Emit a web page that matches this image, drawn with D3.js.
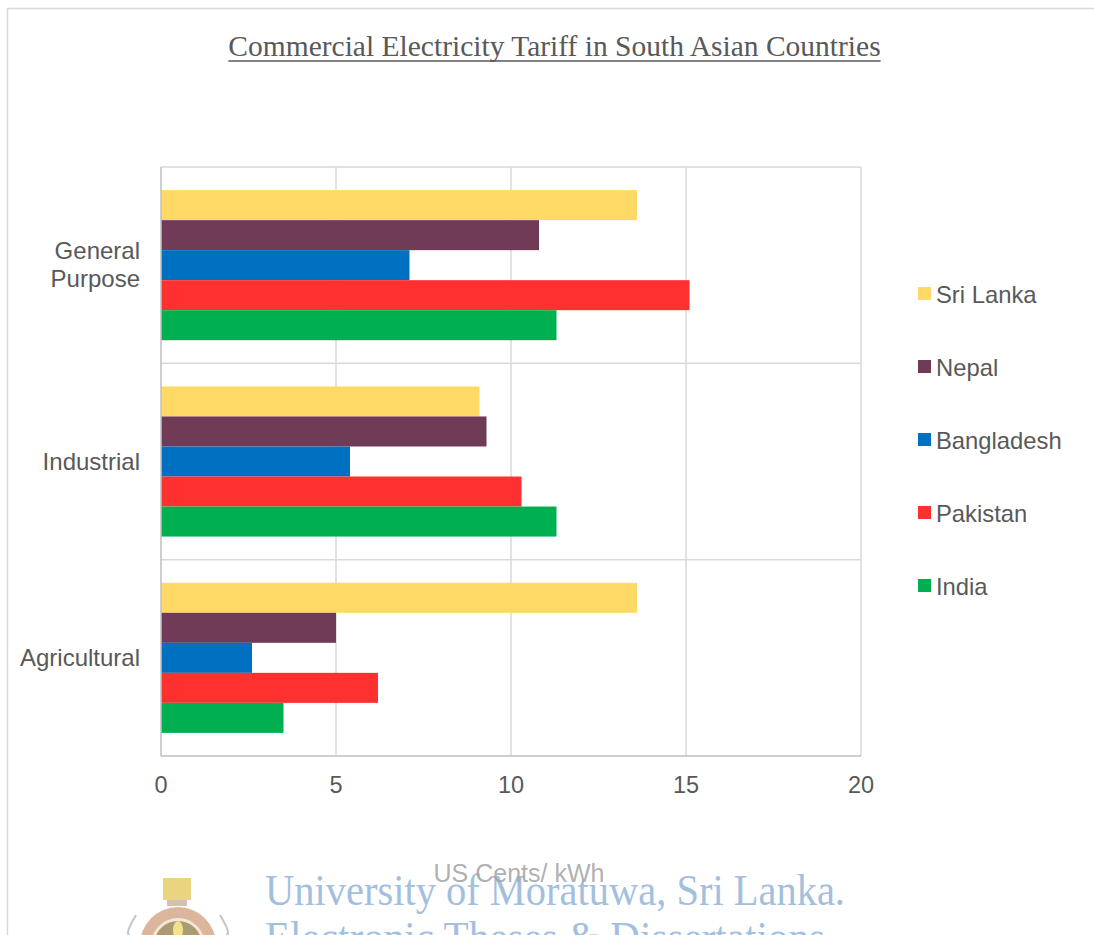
<!DOCTYPE html>
<html>
<head>
<meta charset="utf-8">
<script src="https://cdn.jsdelivr.net/npm/d3@7"></script>
<style>
  html, body { margin: 0; padding: 0; background: #fff; }
  svg { display: block; }
</style>
</head>
<body>
<svg id="chart" width="1094" height="935"></svg>
<script>
// ---- data ----
const categories = ["General Purpose", "Industrial", "Agricultural"];
const series = ["Sri Lanka", "Nepal", "Bangladesh", "Pakistan", "India"];
const sriLanka   = [13.6, 9.1, 13.6];
const nepal      = [10.8, 9.3, 5.0];
const bangladesh = [7.1, 5.4, 2.6];
const pakistan   = [15.1, 10.3, 6.2];
const india      = [11.3, 11.3, 3.5];
const xTicks = [0, 5, 10, 15, 20];
const chartTitle = "Commercial Electricity Tariff in South Asian Countries";
const xTitle = "US Cents/ kWh";
const colors = ["#FFD966", "#703B57", "#0070C0", "#FF3030", "#00B050"];

(function () {
const values = [sriLanka, nepal, bangladesh, pakistan, india];
const rows = [];
categories.forEach((c, ci) => series.forEach((s, si) => rows.push({cat: c, ser: s, v: values[si][ci], si})));

const svg = d3.select("#chart");
const textColor = "#595959";
const gridColor = "#D9D9D9";
const font = "'Liberation Sans', Arial, sans-serif";

// outer border
svg.append("path").attr("d", "M7.5,935 V8.5 H1094").attr("fill", "none").attr("stroke", gridColor).attr("stroke-width", 1.5);

const pLeft = 161, pRight = 861, pTop = 167, pBottom = 756;
const x = d3.scaleLinear().domain([0, 20]).range([pLeft, pRight]);
const y = d3.scaleBand().domain(categories).range([pTop, pBottom]);
const ys = d3.scaleBand().domain(series).range([0, y.bandwidth()]).paddingInner(0).paddingOuter(0.77);

// grid
const g = svg.append("g");
g.selectAll("line.vg").data(xTicks.slice(1)).join("line")
  .attr("x1", d => x(d)).attr("x2", d => x(d)).attr("y1", pTop).attr("y2", pBottom)
  .attr("stroke", gridColor).attr("stroke-width", 1.5);
g.selectAll("line.hg").data(categories).join("line")
  .attr("x1", pLeft).attr("x2", pRight).attr("y1", d => y(d)).attr("y2", d => y(d))
  .attr("stroke", gridColor).attr("stroke-width", 1.5);

// bars
svg.append("g").selectAll("rect").data(rows).join("rect")
  .attr("x", x(0))
  .attr("y", d => y(d.cat) + ys(d.ser))
  .attr("width", d => x(d.v) - x(0))
  .attr("height", ys.bandwidth())
  .attr("fill", d => colors[d.si]);

// axes lines
svg.append("line").attr("x1", pLeft).attr("x2", pLeft).attr("y1", pTop).attr("y2", pBottom)
  .attr("stroke", "#BFBFBF").attr("stroke-width", 1.5);
svg.append("line").attr("x1", pLeft).attr("x2", pRight).attr("y1", pBottom).attr("y2", pBottom)
  .attr("stroke", "#BFBFBF").attr("stroke-width", 1.5);

// x tick labels
svg.append("g").selectAll("text").data(xTicks).join("text")
  .attr("x", d => x(d)).attr("y", 793)
  .attr("text-anchor", "middle").attr("font-family", font).attr("font-size", 23.5)
  .attr("fill", textColor).text(d => d);

// category labels
const catLines = {"General Purpose": ["General", "Purpose"], "Industrial": ["Industrial"], "Agricultural": ["Agricultural"]};
categories.forEach(c => {
  const lines = catLines[c];
  const cy = y(c) + y.bandwidth() / 2;
  const lh = 28;
  const t = svg.append("text").attr("text-anchor", "end").attr("font-family", font)
    .attr("font-size", 24).attr("fill", textColor);
  lines.forEach((l, i) => {
    t.append("tspan").attr("x", 140).attr("y", cy + 8 + (i - (lines.length - 1) / 2) * lh).text(l);
  });
});

// legend
const lg = svg.append("g");
series.forEach((s, i) => {
  const cy = 294 + i * 73;
  lg.append("rect").attr("x", 918).attr("y", cy - 7).attr("width", 13).attr("height", 13).attr("fill", colors[i]);
  lg.append("text").attr("x", 936).attr("y", cy + 8.5).attr("font-family", font).attr("font-size", 23.8)
    .attr("fill", textColor).text(s);
});

// title
const tt = svg.append("text").attr("x", 554.5).attr("y", 56).attr("text-anchor", "middle")
  .attr("font-family", "'Liberation Serif', 'Times New Roman', serif").attr("font-size", 29.5)
  .attr("fill", textColor).text(chartTitle);
const tw = tt.node().getComputedTextLength();
svg.append("line").attr("x1", 554.5 - tw / 2).attr("x2", 554.5 + tw / 2).attr("y1", 61).attr("y2", 61)
  .attr("stroke", textColor).attr("stroke-width", 1.5);

// watermark (logo + text)
const wm = svg.append("g").attr("opacity", 0.85);
wm.append("circle").attr("cx", 178).attr("cy", 945).attr("r", 38).attr("fill", "#D7A98C");
wm.append("circle").attr("cx", 178).attr("cy", 945).attr("r", 27).attr("fill", "#F3E3D2");
wm.append("circle").attr("cx", 178).attr("cy", 945).attr("r", 24).attr("fill", "#9C8A5A");
wm.append("ellipse").attr("cx", 178).attr("cy", 930).attr("rx", 5).attr("ry", 9).attr("fill", "#F2DE7A");
wm.append("rect").attr("x", 163).attr("y", 878).attr("width", 28).attr("height", 22).attr("fill", "#E8CD6A");
wm.append("rect").attr("x", 167).attr("y", 900).attr("width", 20).attr("height", 6).attr("fill", "#C9B7A0");
wm.append("path").attr("d", "M136,915 Q124,935 130,935").attr("fill", "none").attr("stroke", "#BBBBBB").attr("stroke-width", 2);
wm.append("path").attr("d", "M220,915 Q232,935 226,935").attr("fill", "none").attr("stroke", "#BBBBBB").attr("stroke-width", 2);
wm.append("text").attr("x", 265).attr("y", 905).attr("font-family", "'Liberation Serif', serif")
  .attr("font-size", 44).attr("fill", "#94B4DA").attr("textLength", 580).attr("lengthAdjust", "spacingAndGlyphs")
  .text("University of Moratuwa, Sri Lanka.");
wm.append("text").attr("x", 265).attr("y", 952).attr("font-family", "'Liberation Serif', serif")
  .attr("font-size", 44).attr("fill", "#94B4DA").attr("textLength", 560).attr("lengthAdjust", "spacingAndGlyphs")
  .text("Electronic Theses & Dissertations");

// x axis title
svg.append("text").attr("x", 519).attr("y", 882).attr("text-anchor", "middle")
  .attr("font-family", font).attr("font-size", 25).attr("fill", "#A6A6A6").attr("fill-opacity", 0.9)
  .text(xTitle);
})();
</script>
</body>
</html>
